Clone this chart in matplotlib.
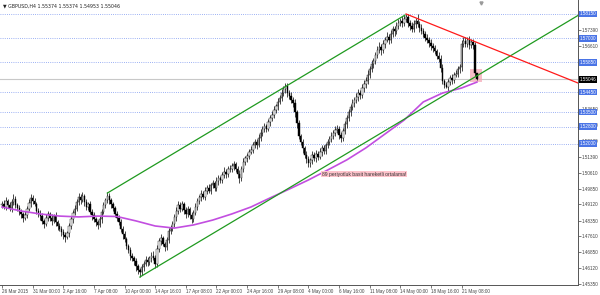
"""
GBPUSD H4 chart with channel, trendline and 89-period SMA, MT4 style.
"""
import matplotlib
matplotlib.use("Agg")
import matplotlib.pyplot as plt
import matplotlib.transforms as mtransforms
from matplotlib.patches import Rectangle

plt.rcParams["font.family"] = ["Liberation Sans", "DejaVu Sans"]

# ---- data -----------------------------------------------------------------
first_open = 1.4910
closes = [
    1.4915, 1.4902, 1.4928, 1.4910, 1.4895, 1.4922, 1.4938, 1.4910, 1.4893, 1.4878,
    1.4866, 1.4850, 1.4862, 1.4892, 1.4918, 1.4942, 1.4930, 1.4915, 1.4882, 1.4868,
    1.4858, 1.4832, 1.4820, 1.4848, 1.4865, 1.4848, 1.4835, 1.4858, 1.4828, 1.4812,
    1.4798, 1.4782, 1.4765, 1.4758, 1.4775, 1.4808, 1.4842, 1.4872, 1.4890, 1.4922,
    1.4946, 1.4932, 1.4952, 1.4922, 1.4902, 1.4915, 1.4878, 1.4860, 1.4842, 1.4828,
    1.4816, 1.4842, 1.4878, 1.4908, 1.4932, 1.4952, 1.4932, 1.4912, 1.4895, 1.4868,
    1.4850, 1.4828, 1.4798, 1.4770, 1.4748, 1.4715, 1.4698, 1.4670, 1.4658, 1.4642,
    1.4618, 1.4600, 1.4590, 1.4615, 1.4632, 1.4650, 1.4638, 1.4658, 1.4670, 1.4660,
    1.4628, 1.4702, 1.4738, 1.4752, 1.4725, 1.4712, 1.4742, 1.4788, 1.4802, 1.4818,
    1.4852, 1.4882, 1.4908, 1.4892, 1.4912, 1.4885, 1.4868, 1.4892, 1.4862, 1.4842,
    1.4872, 1.4902, 1.4928, 1.4946, 1.4962, 1.4948, 1.4978, 1.4992, 1.4978, 1.5002,
    1.5012, 1.4992, 1.5022, 1.5038, 1.5028, 1.5052, 1.5068, 1.5055, 1.5078, 1.5082,
    1.5092, 1.5102, 1.5082, 1.5058, 1.5038, 1.5078, 1.5112, 1.5132, 1.5142, 1.5162,
    1.5172, 1.5192, 1.5208, 1.5195, 1.5228, 1.5252, 1.5268, 1.5282, 1.5272, 1.5302,
    1.5322, 1.5338, 1.5362, 1.5378, 1.5398, 1.5418, 1.5442, 1.5458, 1.5472, 1.5442,
    1.5428, 1.5408, 1.5392, 1.5348, 1.5298, 1.5238, 1.5208, 1.5178, 1.5148, 1.5128,
    1.5108, 1.5122, 1.5148, 1.5132, 1.5152, 1.5138, 1.5162, 1.5178, 1.5165, 1.5192,
    1.5208, 1.5222, 1.5238, 1.5252, 1.5265, 1.5272, 1.5242, 1.5228, 1.5258, 1.5292,
    1.5322, 1.5348, 1.5372, 1.5392, 1.5408, 1.5422, 1.5442, 1.5432, 1.5462, 1.5482,
    1.5498, 1.5528, 1.5552, 1.5578, 1.5592, 1.5622, 1.5642, 1.5658, 1.5642, 1.5672,
    1.5692, 1.5708, 1.5692, 1.5722, 1.5742, 1.5732, 1.5758, 1.5772, 1.5782, 1.5772,
    1.5792, 1.5800, 1.5772, 1.5758, 1.5745, 1.5768, 1.5782, 1.5768, 1.5748, 1.5732,
    1.5722, 1.5702, 1.5692, 1.5678, 1.5662, 1.5652, 1.5638, 1.5618, 1.5602, 1.5558,
    1.5495, 1.5480, 1.5470, 1.5492, 1.5512, 1.5502, 1.5528, 1.5532, 1.5552, 1.5562,
    1.5672, 1.5688, 1.5675, 1.5692, 1.5670, 1.5682, 1.5668, 1.55374, 1.55046,
]
# wick lengths in pips above / below the body
up_wick = [
    12, 16, 20, 10, 14, 18, 24, 12, 10, 16,
    14, 10, 18, 12, 20, 22, 16, 14, 10, 12,
    16, 12, 10, 18, 14, 12, 20, 10, 16, 12,
    10, 14, 12, 16, 10, 18, 14, 12, 20, 16,
    22, 14, 18, 12, 16, 10, 14, 12, 18, 10,
    12, 16, 14, 18, 12, 20, 16, 12, 14, 10,
    12, 10, 14, 12, 16, 10, 12, 14, 10, 12,
    14, 10, 12, 16, 12, 18, 14, 12, 16, 20,
    12, 16, 14, 18, 12, 10, 16, 14, 12, 18,
    16, 20, 22, 14, 18, 12, 16, 14, 10, 12,
    14, 18, 16, 12, 20, 14, 16, 12, 18, 14,
    16, 12, 18, 14, 10, 16, 20, 12, 14, 16,
    18, 14, 12, 10, 16, 14, 18, 12, 16, 14,
    16, 18, 14, 12, 16, 20, 14, 18, 12, 16,
    14, 18, 16, 12, 20, 14, 18, 16, 15, 14,
    12, 16, 14, 18, 12, 16, 10, 14, 12, 16,
    14, 12, 18, 14, 16, 12, 18, 14, 16, 12,
    16, 14, 18, 12, 20, 16, 14, 12, 18, 16,
    14, 18, 16, 20, 12, 18, 16, 14, 20, 18,
    16, 20, 14, 18, 16, 14, 20, 22, 16, 18,
    16, 20, 14, 18, 16, 14, 18, 20, 16, 22,
    18, 15, 16, 14, 20, 18, 16, 32, 14, 18,
    16, 14, 18, 12, 16, 14, 18, 12, 16, 20,
    18, 14, 12, 16, 14, 18, 12, 16, 14, 18,
    20, 18, 16, 14, 18, 16, 14, 12, 0,
]
lo_wick = [
    14, 10, 18, 16, 12, 20, 14, 16, 12, 18,
    16, 20, 12, 14, 10, 16, 18, 12, 14, 16,
    18, 14, 20, 12, 16, 14, 18, 12, 16, 20,
    14, 18, 16, 22, 12, 16, 14, 18, 12, 10,
    12, 16, 10, 18, 14, 16, 12, 20, 14, 18,
    22, 12, 16, 10, 14, 12, 16, 18, 12, 14,
    16, 14, 18, 20, 16, 14, 18, 20, 16, 18,
    20, 16, 22, 14, 18, 12, 16, 14, 18, 12,
    16, 12, 14, 20, 12, 22, 14, 12, 16, 14,
    12, 16, 14, 18, 12, 16, 20, 14, 18, 16,
    14, 12, 16, 14, 18, 12, 14, 16, 12, 14,
    12, 18, 14, 16, 12, 14, 16, 18, 12, 14,
    14, 16, 18, 20, 22, 16, 12, 14, 18, 16,
    12, 16, 14, 18, 12, 14, 16, 12, 18, 14,
    16, 12, 14, 18, 16, 12, 14, 18, 16, 20,
    18, 14, 16, 20, 22, 18, 16, 20, 14, 18,
    20, 18, 16, 14, 18, 16, 12, 18, 14, 16,
    14, 16, 12, 18, 14, 16, 20, 18, 14, 12,
    16, 14, 18, 12, 16, 14, 18, 20, 14, 16,
    18, 14, 16, 12, 18, 14, 16, 12, 20, 14,
    16, 12, 18, 14, 16, 20, 14, 16, 12, 18,
    16, 14, 18, 20, 16, 14, 18, 16, 20, 14,
    18, 16, 14, 20, 18, 16, 14, 18, 16, 20,
    14, 18, 8, 20, 14, 18, 16, 14, 18, 16,
    16, 14, 18, 16, 20, 14, 18, 16, 1,
]

# 89 period simple moving average, read every 10 bars
ma_bars = [0, 10, 20, 30, 40, 50, 60, 70, 80, 90, 100, 110, 120, 130, 140,
           150, 160, 170, 180, 190, 200, 210, 220, 230, 240, 248]
ma_values = [1.4900, 1.4881, 1.4867, 1.4857, 1.4853, 1.4857, 1.4855, 1.4834,
             1.4810, 1.4800, 1.4815, 1.4838, 1.4867, 1.4900, 1.4943, 1.4985,
             1.5028, 1.5075, 1.5123, 1.5180, 1.5246, 1.5312, 1.5398, 1.5440,
             1.5464, 1.5492]

date_labels = ["26 Mar 2015", "31 Mar 00:00", "2 Apr 16:00", "7 Apr 08:00",
               "10 Apr 00:00", "14 Apr 16:00", "17 Apr 08:00", "22 Apr 00:00",
               "24 Apr 16:00", "29 Apr 08:00", "4 May 00:00", "6 May 16:00",
               "11 May 08:00", "14 May 00:00", "18 May 16:00", "21 May 08:00"]
date_label_bars = [0, 16, 32, 48, 64, 80, 96, 112, 128, 144, 160, 176, 192,
                   208, 224, 240]

# price scale labels that stay visible next to the level boxes
price_ticks = [1.45350, 1.46120, 1.46850, 1.47610, 1.48350, 1.49120, 1.49850,
               1.50610, 1.51390, 1.52130, 1.52880, 1.53650, 1.56610, 1.57390]
level_lines = [1.58150, 1.57000, 1.55850, 1.54450, 1.53500, 1.52800, 1.52000]
last_price = 1.55046

# channel / trendline anchors (bar index, price)
channel_upper = ([55, 210.5], [1.4966, 1.5810])
channel_lower = ([72, 301], [1.4568, 1.5809])
red_line = ([211, 301], [1.5815, 1.5487])
highlight_box = (244.5, 1.5492, 6.0, 0.0062)   # bar, price, width, height
note_pos = (167, 1.5056)

# ---- figure -------------------------------------------------------------
fig = plt.figure(figsize=(6, 2.95), dpi=100)
ax = fig.add_axes([0, 10 / 295, 578 / 600, 285 / 295])
ax.set_xlim(-1.04, 300.8)
ax.set_ylim(1.45303, 1.58812)

# dotted horizontal levels and current price line
for lv in level_lines:
    ax.axhline(lv, color="#7c98f0", lw=0.6, ls=(0, (1, 1.6)), zorder=1)
ax.axhline(last_price, color="#c8c8c8", lw=0.8, zorder=1)

# candles
opens = [first_open] + closes[:-1]
for i, (o, c) in enumerate(zip(opens, closes)):
    hi = max(o, c) + up_wick[i] * 0.0001
    lo = min(o, c) - lo_wick[i] * 0.0001
    ax.vlines(i, lo, hi, color="black", lw=0.5, zorder=3)
    body = abs(c - o) if abs(c - o) > 0.0002 else 0.0002
    fc = "white" if c > o else "black"
    ax.bar(i, body, bottom=min(o, c), width=0.75, color=fc,
           edgecolor="black", linewidth=0.3, zorder=4)

ax.plot(ma_bars, ma_values, color="#c24ee0", lw=1.2, zorder=5)

ax.plot(*channel_upper, color="#1f9a1f", lw=0.9, zorder=6)
ax.plot(*channel_lower, color="#1f9a1f", lw=0.9, zorder=6)
ax.plot(*red_line, color="#ff1a1a", lw=0.9, zorder=6)

bx, by, bw, bh = highlight_box
ax.add_patch(Rectangle((bx, by), bw, bh, facecolor="#f5a9b8", alpha=0.75,
                       edgecolor="none", zorder=2))

ax.text(note_pos[0], note_pos[1], "89 periyotluk basit hareketli ortalama!",
        fontsize=3.6, color="#333333", va="center", ha="left", zorder=7,
        bbox=dict(boxstyle="square,pad=0.15", fc="#ffc4cc", ec="none"))

ax.text(0.006, 0.978, "\u25bc GBPUSD,H4 1.55374 1.55374 1.54953 1.55046",
        transform=ax.transAxes, fontsize=3.4, color="#222222",
        va="center", ha="left", family=["DejaVu Sans"])
ax.plot([250.2], [1.5866], marker="v", color="#9a9a9a", markersize=2.2,
        clip_on=False)

# axes styling
for side in ["left", "top"]:
    ax.spines[side].set_visible(False)
for side in ["right", "bottom"]:
    ax.spines[side].set_color("#555555")
    ax.spines[side].set_linewidth(0.7)

ax.yaxis.tick_right()
ax.set_yticks(price_ticks)
ax.set_yticklabels([f"{v:.5f}" for v in price_ticks])
ax.tick_params(axis="y", labelsize=3.3, length=2, width=0.5, pad=1,
               colors="#444444")

ax.set_xticks(date_label_bars)
ax.set_xticklabels(date_labels)
ax.tick_params(axis="x", labelsize=3.3, length=2, width=0.5, pad=1,
               colors="#444444")
for lab in ax.get_xticklabels():
    lab.set_ha("left")

trans = mtransforms.blended_transform_factory(ax.transAxes, ax.transData)
for lv in level_lines:
    ax.text(1.003, lv, f"{lv:.5f}", transform=trans, fontsize=3.3,
            color="white", va="center", ha="left", clip_on=False, zorder=8,
            bbox=dict(boxstyle="square,pad=0.2", fc="#4a74e6", ec="none"))
ax.text(1.003, last_price, f"{last_price:.5f}", transform=trans, fontsize=3.3,
        color="white", va="center", ha="left", clip_on=False, zorder=8,
        bbox=dict(boxstyle="square,pad=0.2", fc="black", ec="none"))

fig.savefig("out.png", dpi=100)
